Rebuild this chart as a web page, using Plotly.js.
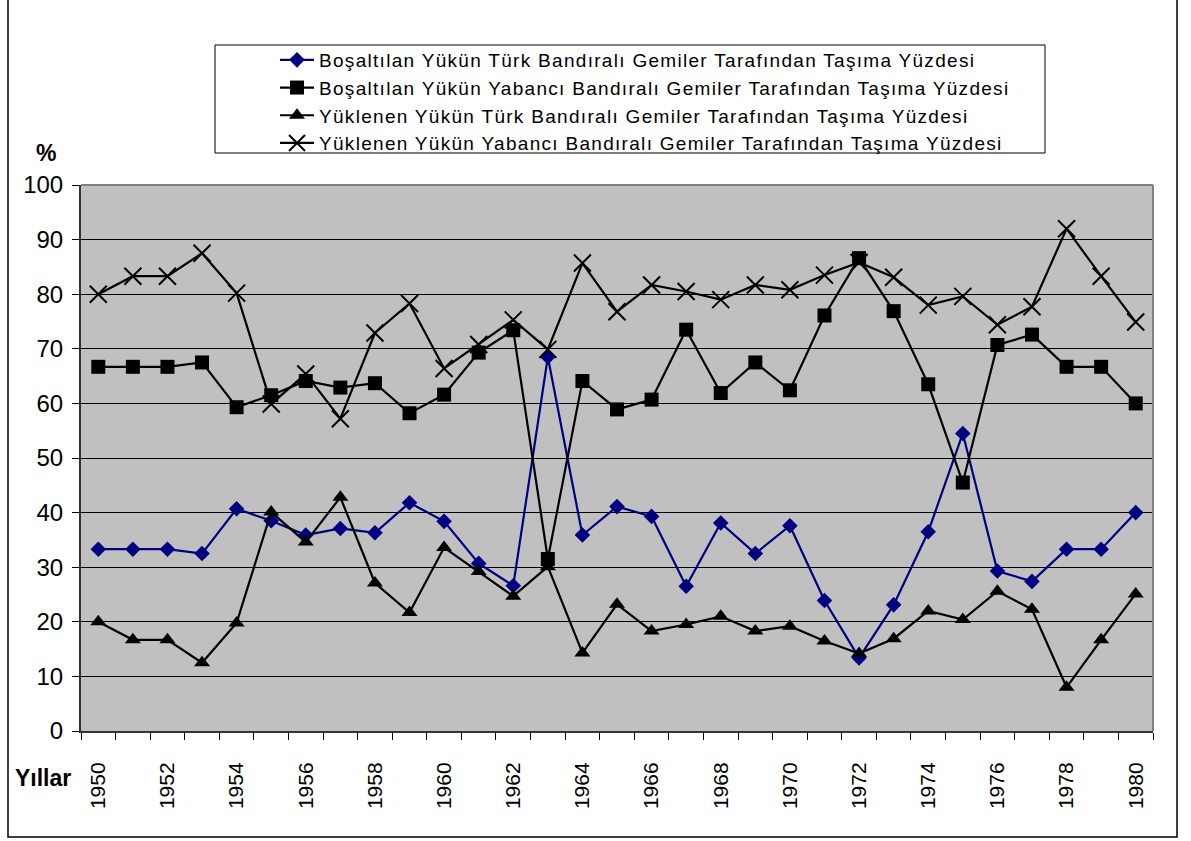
<!DOCTYPE html>
<html>
<head>
<meta charset="utf-8">
<script src="https://cdn.plot.ly/plotly-3.0.1.min.js"></script>
<style>
  html, body { margin: 0; padding: 0; background: #ffffff; }
  #chart { width: 1191px; height: 841px; }
  #chart .legendtext { letter-spacing: 1.3px; }
  #chart .legend, #chart .legend .scrollbox { clip-path: none !important; }
</style>
</head>
<body>
<div id="chart"></div>
<script>
const years = [1950,1951,1952,1953,1954,1955,1956,1957,1958,1959,1960,1961,1962,1963,1964,1965,1966,1967,1968,1969,1970,1971,1972,1973,1974,1975,1976,1977,1978,1979,1980];

const seriesNames = [
  "Boşaltılan Yükün Türk Bandıralı Gemiler Tarafından Taşıma Yüzdesi",
  "Boşaltılan Yükün Yabancı Bandıralı Gemiler Tarafından Taşıma Yüzdesi",
  "Yüklenen Yükün Türk Bandıralı Gemiler Tarafından Taşıma Yüzdesi",
  "Yüklenen Yükün Yabancı Bandıralı Gemiler Tarafından Taşıma Yüzdesi"
];

const bosaltilanTurk = [33.3,33.3,33.3,32.5,40.7,38.5,35.9,37.1,36.3,41.8,38.4,30.7,26.6,68.5,35.9,41.1,39.3,26.5,38.1,32.5,37.6,23.9,13.4,23.1,36.5,54.5,29.3,27.4,33.3,33.3,40.0];
const bosaltilanYabanci = [66.7,66.7,66.7,67.5,59.3,61.5,64.1,62.9,63.7,58.2,61.6,69.3,73.4,31.5,64.1,58.9,60.7,73.5,61.9,67.5,62.4,76.1,86.6,76.9,63.5,45.5,70.7,72.6,66.7,66.7,60.0];
const yuklenenTurk = [20.0,16.7,16.7,12.5,19.8,40.1,34.6,42.8,27.1,21.7,33.6,29.2,24.7,30.1,14.3,23.2,18.3,19.5,21.0,18.3,19.2,16.5,14.2,16.9,22.0,20.4,25.6,22.3,8.0,16.7,25.1];
const yuklenenYabanci = [80.0,83.3,83.3,87.5,80.2,59.9,65.4,57.2,72.9,78.3,66.4,70.8,75.3,69.9,85.7,76.8,81.7,80.5,79.0,81.7,80.8,83.5,85.8,83.1,78.0,79.6,74.4,77.7,92.0,83.3,74.9];

const xTickVals = [1950,1952,1954,1956,1958,1960,1962,1964,1966,1968,1970,1972,1974,1976,1978,1980];
const yTickVals = [0,10,20,30,40,50,60,70,80,90,100];

const FONT = "Arial, 'Liberation Sans', sans-serif";

const traces = [
  { x: years, y: bosaltilanTurk, name: seriesNames[0], type: 'scatter', mode: 'lines+markers',
    line: {color: '#000080', width: 2.2},
    marker: {symbol: 'diamond', size: 12, color: '#000080'} },
  { x: years, y: bosaltilanYabanci, name: seriesNames[1], type: 'scatter', mode: 'lines+markers',
    line: {color: '#000000', width: 2.2},
    marker: {symbol: 'square', size: 14, color: '#000000'} },
  { x: years, y: yuklenenTurk, name: seriesNames[2], type: 'scatter', mode: 'lines+markers',
    line: {color: '#000000', width: 2.2},
    marker: {symbol: 'triangle-up', size: 14, color: '#000000'} },
  { x: years, y: yuklenenYabanci, name: seriesNames[3], type: 'scatter', mode: 'lines+markers',
    line: {color: '#000000', width: 2.2},
    marker: {symbol: 'x-thin-open', size: 17, color: '#000000', line: {color: '#000000', width: 2}} }
];

// plot area in pixels: left 81, right 1153, top 185, bottom 731
const L = 81, R = 1153, T = 185, B = 731;
const W = R - L, H = B - T;
const px = v => (v - L) / W;
const py = v => (B - v) / H;

const layout = {
  width: 1191, height: 841,
  margin: {l: L, r: 1191 - R, t: T, b: 841 - B, pad: 0},
  paper_bgcolor: '#ffffff',
  plot_bgcolor: '#c0c0c0',
  font: {family: FONT, color: '#000000'},
  showlegend: true,
  legend: {
    x: px(275), y: py(41), xanchor: 'left', yanchor: 'top',
    bgcolor: 'rgba(0,0,0,0)', borderwidth: 0,
    font: {family: FONT, size: 19, color: '#000000'},
    itemwidth: 34,
    tracegroupgap: 0
  },
  xaxis: {
    type: 'linear',
    range: [1949.5, 1980.5],
    tickmode: 'array', tickvals: xTickVals, ticktext: xTickVals.map(String),
    tickangle: -90,
    ticks: '',
    ticklabelstandoff: 21,
    tickfont: {family: FONT, size: 21, color: '#000000'},
    showgrid: false, zeroline: false,
    showline: true, linecolor: '#333333', linewidth: 2,
    minor: {tickmode: 'linear', tick0: 1949.5, dtick: 1, ticks: 'outside', ticklen: 7, tickcolor: '#000000', tickwidth: 1, showgrid: false},
    fixedrange: true
  },
  yaxis: {
    range: [0, 100],
    tickmode: 'array', tickvals: yTickVals,
    ticks: 'outside', ticklen: 7, tickcolor: '#000000', tickwidth: 1,
    ticklabelstandoff: 4,
    tickfont: {family: FONT, size: 24, color: '#000000'},
    showgrid: true, gridcolor: '#000000', gridwidth: 1,
    zeroline: false,
    showline: true, linecolor: '#333333', linewidth: 2,
    fixedrange: true
  },
  shapes: [
    {type: 'line', xref: 'paper', yref: 'paper', x0: 0, x1: 1, y0: 1, y1: 1, line: {color: '#808080', width: 2}},
    {type: 'line', xref: 'paper', yref: 'paper', x0: 1, x1: 1, y0: 0, y1: 1, line: {color: '#808080', width: 2}},
    {type: 'rect', xref: 'paper', yref: 'paper', x0: px(215), x1: px(1045), y0: py(153), y1: py(45),
     line: {color: '#000000', width: 1}, fillcolor: 'rgba(0,0,0,0)'},
    {type: 'rect', xref: 'paper', yref: 'paper', x0: px(8), x1: px(1177), y0: py(837), y1: py(-5),
     line: {color: '#000000', width: 1.5}, fillcolor: 'rgba(0,0,0,0)'}
  ],
  annotations: [
    {text: '<b>%</b>', xref: 'paper', yref: 'paper', x: px(46), y: py(153), xanchor: 'center', yanchor: 'middle',
     showarrow: false, font: {family: FONT, size: 23, color: '#000000'}},
    {text: '<b>Yıllar</b>', xref: 'paper', yref: 'paper', x: px(43), y: py(778), xanchor: 'center', yanchor: 'middle',
     showarrow: false, font: {family: FONT, size: 23, color: '#000000'}}
  ]
};

Plotly.newPlot('chart', traces, layout, {displayModeBar: false, staticPlot: true});
</script>
</body>
</html>
